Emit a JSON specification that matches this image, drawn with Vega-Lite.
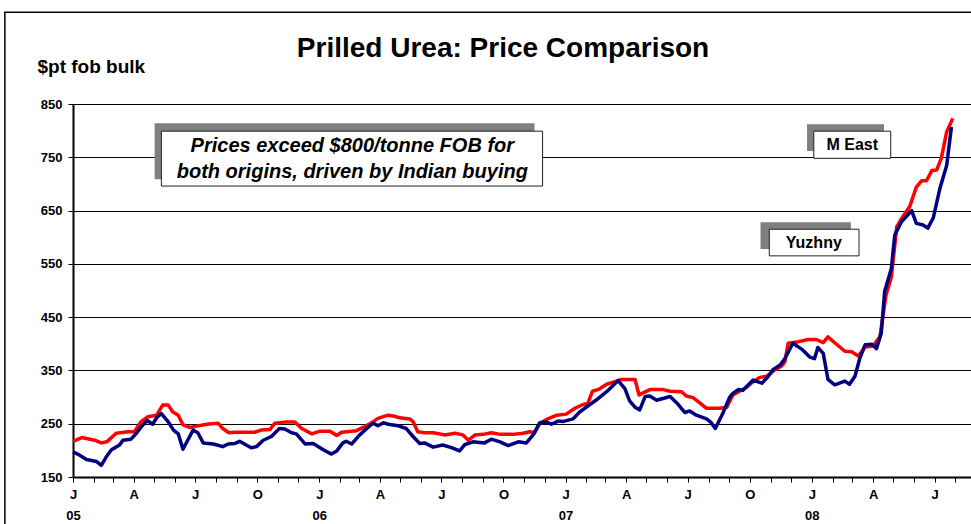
{
  "$schema": "https://vega.github.io/schema/vega-lite/v6.json",
  "width": 898,
  "height": 373,
  "autosize": {"type": "none"},
  "padding": {"left": 73, "top": 104, "right": 0, "bottom": 47},
  "background": "white",
  "config": {"view": {"stroke": null}, "font": "Liberation Sans"},
  "title": {
    "text": "Prilled Urea: Price Comparison",
    "font": "Liberation Sans",
    "fontSize": 28,
    "fontWeight": "bold",
    "color": "black",
    "anchor": "middle",
    "frame": "group",
    "dx": -19,
    "offset": -51
  },
  "datasets": {
    "prices": [
      {"date": "2005-01-01", "series": "M East", "price": 217},
      {"date": "2005-01-14", "series": "M East", "price": 224},
      {"date": "2005-02-02", "series": "M East", "price": 219},
      {"date": "2005-02-12", "series": "M East", "price": 214},
      {"date": "2005-02-20", "series": "M East", "price": 216},
      {"date": "2005-03-06", "series": "M East", "price": 232},
      {"date": "2005-03-24", "series": "M East", "price": 235},
      {"date": "2005-04-02", "series": "M East", "price": 235},
      {"date": "2005-04-12", "series": "M East", "price": 254},
      {"date": "2005-04-22", "series": "M East", "price": 263},
      {"date": "2005-05-05", "series": "M East", "price": 266},
      {"date": "2005-05-14", "series": "M East", "price": 285},
      {"date": "2005-05-22", "series": "M East", "price": 285},
      {"date": "2005-05-29", "series": "M East", "price": 272},
      {"date": "2005-06-06", "series": "M East", "price": 266},
      {"date": "2005-06-13", "series": "M East", "price": 248},
      {"date": "2005-06-23", "series": "M East", "price": 243},
      {"date": "2005-07-05", "series": "M East", "price": 246},
      {"date": "2005-07-18", "series": "M East", "price": 249},
      {"date": "2005-08-04", "series": "M East", "price": 251},
      {"date": "2005-08-11", "series": "M East", "price": 241},
      {"date": "2005-08-20", "series": "M East", "price": 233},
      {"date": "2005-08-29", "series": "M East", "price": 234},
      {"date": "2005-09-27", "series": "M East", "price": 234},
      {"date": "2005-10-07", "series": "M East", "price": 238},
      {"date": "2005-10-20", "series": "M East", "price": 239},
      {"date": "2005-10-27", "series": "M East", "price": 251},
      {"date": "2005-11-11", "series": "M East", "price": 253},
      {"date": "2005-11-26", "series": "M East", "price": 253},
      {"date": "2005-12-06", "series": "M East", "price": 241},
      {"date": "2005-12-21", "series": "M East", "price": 231},
      {"date": "2006-01-02", "series": "M East", "price": 236},
      {"date": "2006-01-17", "series": "M East", "price": 236},
      {"date": "2006-01-27", "series": "M East", "price": 228},
      {"date": "2006-02-03", "series": "M East", "price": 234},
      {"date": "2006-02-25", "series": "M East", "price": 237},
      {"date": "2006-03-07", "series": "M East", "price": 243},
      {"date": "2006-03-20", "series": "M East", "price": 252},
      {"date": "2006-03-29", "series": "M East", "price": 260},
      {"date": "2006-04-13", "series": "M East", "price": 266},
      {"date": "2006-04-23", "series": "M East", "price": 264},
      {"date": "2006-04-30", "series": "M East", "price": 261},
      {"date": "2006-05-15", "series": "M East", "price": 259},
      {"date": "2006-05-20", "series": "M East", "price": 254},
      {"date": "2006-05-27", "series": "M East", "price": 235},
      {"date": "2006-06-06", "series": "M East", "price": 233},
      {"date": "2006-06-19", "series": "M East", "price": 233},
      {"date": "2006-07-06", "series": "M East", "price": 229},
      {"date": "2006-07-21", "series": "M East", "price": 232},
      {"date": "2006-08-02", "series": "M East", "price": 229},
      {"date": "2006-08-10", "series": "M East", "price": 219},
      {"date": "2006-08-20", "series": "M East", "price": 229},
      {"date": "2006-09-01", "series": "M East", "price": 230},
      {"date": "2006-09-13", "series": "M East", "price": 233},
      {"date": "2006-09-26", "series": "M East", "price": 230},
      {"date": "2006-10-15", "series": "M East", "price": 230},
      {"date": "2006-10-30", "series": "M East", "price": 232},
      {"date": "2006-11-09", "series": "M East", "price": 235},
      {"date": "2006-11-16", "series": "M East", "price": 233},
      {"date": "2006-11-24", "series": "M East", "price": 251},
      {"date": "2006-12-04", "series": "M East", "price": 258},
      {"date": "2006-12-19", "series": "M East", "price": 266},
      {"date": "2007-01-02", "series": "M East", "price": 268},
      {"date": "2007-01-15", "series": "M East", "price": 279},
      {"date": "2007-01-27", "series": "M East", "price": 286},
      {"date": "2007-02-03", "series": "M East", "price": 288},
      {"date": "2007-02-10", "series": "M East", "price": 311},
      {"date": "2007-02-20", "series": "M East", "price": 315},
      {"date": "2007-03-03", "series": "M East", "price": 324},
      {"date": "2007-03-15", "series": "M East", "price": 329},
      {"date": "2007-03-25", "series": "M East", "price": 333},
      {"date": "2007-04-14", "series": "M East", "price": 333},
      {"date": "2007-04-20", "series": "M East", "price": 304},
      {"date": "2007-05-06", "series": "M East", "price": 314},
      {"date": "2007-05-26", "series": "M East", "price": 314},
      {"date": "2007-06-05", "series": "M East", "price": 311},
      {"date": "2007-06-22", "series": "M East", "price": 310},
      {"date": "2007-06-29", "series": "M East", "price": 302},
      {"date": "2007-07-09", "series": "M East", "price": 299},
      {"date": "2007-07-19", "series": "M East", "price": 289},
      {"date": "2007-07-29", "series": "M East", "price": 279},
      {"date": "2007-08-18", "series": "M East", "price": 279},
      {"date": "2007-08-28", "series": "M East", "price": 281},
      {"date": "2007-09-06", "series": "M East", "price": 304},
      {"date": "2007-09-16", "series": "M East", "price": 311},
      {"date": "2007-09-26", "series": "M East", "price": 318},
      {"date": "2007-10-06", "series": "M East", "price": 329},
      {"date": "2007-10-16", "series": "M East", "price": 337},
      {"date": "2007-10-26", "series": "M East", "price": 339},
      {"date": "2007-11-07", "series": "M East", "price": 351},
      {"date": "2007-11-17", "series": "M East", "price": 358},
      {"date": "2007-11-22", "series": "M East", "price": 366},
      {"date": "2007-11-27", "series": "M East", "price": 401},
      {"date": "2007-12-12", "series": "M East", "price": 404},
      {"date": "2007-12-27", "series": "M East", "price": 408},
      {"date": "2008-01-08", "series": "M East", "price": 408},
      {"date": "2008-01-18", "series": "M East", "price": 402},
      {"date": "2008-01-25", "series": "M East", "price": 413},
      {"date": "2008-02-04", "series": "M East", "price": 402},
      {"date": "2008-02-19", "series": "M East", "price": 386},
      {"date": "2008-02-29", "series": "M East", "price": 385},
      {"date": "2008-03-10", "series": "M East", "price": 377},
      {"date": "2008-03-20", "series": "M East", "price": 394},
      {"date": "2008-04-01", "series": "M East", "price": 396},
      {"date": "2008-04-11", "series": "M East", "price": 413},
      {"date": "2008-04-20", "series": "M East", "price": 491},
      {"date": "2008-04-28", "series": "M East", "price": 526},
      {"date": "2008-05-06", "series": "M East", "price": 620},
      {"date": "2008-05-13", "series": "M East", "price": 635},
      {"date": "2008-05-25", "series": "M East", "price": 657},
      {"date": "2008-06-04", "series": "M East", "price": 694},
      {"date": "2008-06-12", "series": "M East", "price": 706},
      {"date": "2008-06-19", "series": "M East", "price": 706},
      {"date": "2008-06-27", "series": "M East", "price": 725},
      {"date": "2008-07-04", "series": "M East", "price": 726},
      {"date": "2008-07-11", "series": "M East", "price": 748},
      {"date": "2008-07-19", "series": "M East", "price": 798},
      {"date": "2008-07-28", "series": "M East", "price": 823},
      {"date": "2005-01-01", "series": "Yuzhny", "price": 197},
      {"date": "2005-01-08", "series": "Yuzhny", "price": 193},
      {"date": "2005-01-21", "series": "Yuzhny", "price": 183},
      {"date": "2005-02-05", "series": "Yuzhny", "price": 179},
      {"date": "2005-02-12", "series": "Yuzhny", "price": 172},
      {"date": "2005-02-20", "series": "Yuzhny", "price": 189},
      {"date": "2005-02-27", "series": "Yuzhny", "price": 201},
      {"date": "2005-03-11", "series": "Yuzhny", "price": 210},
      {"date": "2005-03-16", "series": "Yuzhny", "price": 219},
      {"date": "2005-03-28", "series": "Yuzhny", "price": 221},
      {"date": "2005-04-05", "series": "Yuzhny", "price": 232},
      {"date": "2005-04-12", "series": "Yuzhny", "price": 244},
      {"date": "2005-04-21", "series": "Yuzhny", "price": 256},
      {"date": "2005-04-29", "series": "Yuzhny", "price": 249},
      {"date": "2005-05-06", "series": "Yuzhny", "price": 263},
      {"date": "2005-05-12", "series": "Yuzhny", "price": 269},
      {"date": "2005-05-22", "series": "Yuzhny", "price": 254},
      {"date": "2005-05-30", "series": "Yuzhny", "price": 238},
      {"date": "2005-06-06", "series": "Yuzhny", "price": 231},
      {"date": "2005-06-13", "series": "Yuzhny", "price": 202},
      {"date": "2005-06-20", "series": "Yuzhny", "price": 219},
      {"date": "2005-06-28", "series": "Yuzhny", "price": 238},
      {"date": "2005-07-05", "series": "Yuzhny", "price": 233},
      {"date": "2005-07-13", "series": "Yuzhny", "price": 214},
      {"date": "2005-07-28", "series": "Yuzhny", "price": 212},
      {"date": "2005-08-11", "series": "Yuzhny", "price": 207},
      {"date": "2005-08-19", "series": "Yuzhny", "price": 212},
      {"date": "2005-08-29", "series": "Yuzhny", "price": 213},
      {"date": "2005-09-05", "series": "Yuzhny", "price": 217},
      {"date": "2005-09-22", "series": "Yuzhny", "price": 205},
      {"date": "2005-09-30", "series": "Yuzhny", "price": 207},
      {"date": "2005-10-10", "series": "Yuzhny", "price": 219},
      {"date": "2005-10-22", "series": "Yuzhny", "price": 226},
      {"date": "2005-11-03", "series": "Yuzhny", "price": 241},
      {"date": "2005-11-11", "series": "Yuzhny", "price": 240},
      {"date": "2005-11-21", "series": "Yuzhny", "price": 233},
      {"date": "2005-11-28", "series": "Yuzhny", "price": 231},
      {"date": "2005-12-11", "series": "Yuzhny", "price": 212},
      {"date": "2005-12-23", "series": "Yuzhny", "price": 213},
      {"date": "2006-01-07", "series": "Yuzhny", "price": 201},
      {"date": "2006-01-19", "series": "Yuzhny", "price": 193},
      {"date": "2006-01-27", "series": "Yuzhny", "price": 199},
      {"date": "2006-02-05", "series": "Yuzhny", "price": 214},
      {"date": "2006-02-10", "series": "Yuzhny", "price": 217},
      {"date": "2006-02-18", "series": "Yuzhny", "price": 212},
      {"date": "2006-03-02", "series": "Yuzhny", "price": 229},
      {"date": "2006-03-15", "series": "Yuzhny", "price": 244},
      {"date": "2006-03-22", "series": "Yuzhny", "price": 251},
      {"date": "2006-03-29", "series": "Yuzhny", "price": 246},
      {"date": "2006-04-06", "series": "Yuzhny", "price": 252},
      {"date": "2006-04-13", "series": "Yuzhny", "price": 249},
      {"date": "2006-04-28", "series": "Yuzhny", "price": 246},
      {"date": "2006-05-10", "series": "Yuzhny", "price": 241},
      {"date": "2006-05-20", "series": "Yuzhny", "price": 226},
      {"date": "2006-05-30", "series": "Yuzhny", "price": 213},
      {"date": "2006-06-06", "series": "Yuzhny", "price": 214},
      {"date": "2006-06-19", "series": "Yuzhny", "price": 206},
      {"date": "2006-07-03", "series": "Yuzhny", "price": 210},
      {"date": "2006-07-16", "series": "Yuzhny", "price": 205},
      {"date": "2006-07-28", "series": "Yuzhny", "price": 199},
      {"date": "2006-08-05", "series": "Yuzhny", "price": 211},
      {"date": "2006-08-17", "series": "Yuzhny", "price": 216},
      {"date": "2006-09-03", "series": "Yuzhny", "price": 214},
      {"date": "2006-09-13", "series": "Yuzhny", "price": 221},
      {"date": "2006-09-26", "series": "Yuzhny", "price": 216},
      {"date": "2006-10-08", "series": "Yuzhny", "price": 209},
      {"date": "2006-10-23", "series": "Yuzhny", "price": 216},
      {"date": "2006-11-04", "series": "Yuzhny", "price": 214},
      {"date": "2006-11-14", "series": "Yuzhny", "price": 229},
      {"date": "2006-11-24", "series": "Yuzhny", "price": 252},
      {"date": "2006-12-04", "series": "Yuzhny", "price": 253},
      {"date": "2006-12-11", "series": "Yuzhny", "price": 249},
      {"date": "2006-12-21", "series": "Yuzhny", "price": 255},
      {"date": "2006-12-28", "series": "Yuzhny", "price": 254},
      {"date": "2007-01-12", "series": "Yuzhny", "price": 259},
      {"date": "2007-01-22", "series": "Yuzhny", "price": 272},
      {"date": "2007-02-03", "series": "Yuzhny", "price": 283},
      {"date": "2007-02-15", "series": "Yuzhny", "price": 294},
      {"date": "2007-03-03", "series": "Yuzhny", "price": 310},
      {"date": "2007-03-20", "series": "Yuzhny", "price": 331},
      {"date": "2007-03-30", "series": "Yuzhny", "price": 316},
      {"date": "2007-04-06", "series": "Yuzhny", "price": 293},
      {"date": "2007-04-14", "series": "Yuzhny", "price": 281},
      {"date": "2007-04-21", "series": "Yuzhny", "price": 276},
      {"date": "2007-04-29", "series": "Yuzhny", "price": 301},
      {"date": "2007-05-06", "series": "Yuzhny", "price": 302},
      {"date": "2007-05-16", "series": "Yuzhny", "price": 294},
      {"date": "2007-06-05", "series": "Yuzhny", "price": 301},
      {"date": "2007-06-15", "series": "Yuzhny", "price": 289},
      {"date": "2007-06-27", "series": "Yuzhny", "price": 271},
      {"date": "2007-07-04", "series": "Yuzhny", "price": 274},
      {"date": "2007-07-14", "series": "Yuzhny", "price": 266},
      {"date": "2007-07-29", "series": "Yuzhny", "price": 259},
      {"date": "2007-08-05", "series": "Yuzhny", "price": 252},
      {"date": "2007-08-11", "series": "Yuzhny", "price": 241},
      {"date": "2007-08-22", "series": "Yuzhny", "price": 269},
      {"date": "2007-09-01", "series": "Yuzhny", "price": 299},
      {"date": "2007-09-06", "series": "Yuzhny", "price": 307},
      {"date": "2007-09-14", "series": "Yuzhny", "price": 314},
      {"date": "2007-09-21", "series": "Yuzhny", "price": 313},
      {"date": "2007-10-06", "series": "Yuzhny", "price": 332},
      {"date": "2007-10-19", "series": "Yuzhny", "price": 326},
      {"date": "2007-10-28", "series": "Yuzhny", "price": 338},
      {"date": "2007-11-05", "series": "Yuzhny", "price": 352},
      {"date": "2007-11-15", "series": "Yuzhny", "price": 360},
      {"date": "2007-11-22", "series": "Yuzhny", "price": 372},
      {"date": "2007-12-04", "series": "Yuzhny", "price": 401},
      {"date": "2007-12-17", "series": "Yuzhny", "price": 390},
      {"date": "2007-12-29", "series": "Yuzhny", "price": 375},
      {"date": "2008-01-05", "series": "Yuzhny", "price": 372},
      {"date": "2008-01-10", "series": "Yuzhny", "price": 393},
      {"date": "2008-01-18", "series": "Yuzhny", "price": 382},
      {"date": "2008-01-25", "series": "Yuzhny", "price": 333},
      {"date": "2008-02-04", "series": "Yuzhny", "price": 323},
      {"date": "2008-02-19", "series": "Yuzhny", "price": 330},
      {"date": "2008-02-26", "series": "Yuzhny", "price": 324},
      {"date": "2008-03-05", "series": "Yuzhny", "price": 339},
      {"date": "2008-03-12", "series": "Yuzhny", "price": 372},
      {"date": "2008-03-20", "series": "Yuzhny", "price": 398},
      {"date": "2008-03-30", "series": "Yuzhny", "price": 399},
      {"date": "2008-04-06", "series": "Yuzhny", "price": 391},
      {"date": "2008-04-13", "series": "Yuzhny", "price": 420},
      {"date": "2008-04-18", "series": "Yuzhny", "price": 498},
      {"date": "2008-04-28", "series": "Yuzhny", "price": 542},
      {"date": "2008-05-03", "series": "Yuzhny", "price": 604},
      {"date": "2008-05-13", "series": "Yuzhny", "price": 629},
      {"date": "2008-05-28", "series": "Yuzhny", "price": 650},
      {"date": "2008-06-04", "series": "Yuzhny", "price": 626},
      {"date": "2008-06-14", "series": "Yuzhny", "price": 623},
      {"date": "2008-06-21", "series": "Yuzhny", "price": 617},
      {"date": "2008-06-29", "series": "Yuzhny", "price": 636},
      {"date": "2008-07-09", "series": "Yuzhny", "price": 692},
      {"date": "2008-07-19", "series": "Yuzhny", "price": 735},
      {"date": "2008-07-26", "series": "Yuzhny", "price": 807}
    ]
  },
  "layer": [
    {
      "data": {"values": [{}]},
      "mark": {"type": "rect", "fill": null, "fillOpacity": 0, "stroke": "black", "strokeWidth": 1.5, "clip": false},
      "encoding": {
        "x": {"datum": {"year": 2004, "month": 9, "date": 22, "utc": true}, "type": "temporal"},
        "x2": {"datum": {"year": 2009, "month": 6, "date": 1, "utc": true}},
        "y": {"datum": 1022, "type": "quantitative"},
        "y2": {"datum": -200}
      }
    },
    {
      "data": {"name": "prices"},
      "transform": [{"filter": "datum.series === 'M East'"}],
      "mark": {"type": "line", "color": "#FF0000", "strokeWidth": 3.5, "strokeJoin": "round"},
      "encoding": {
        "x": {
          "field": "date",
          "type": "temporal",
          "scale": {
            "type": "utc",
            "domain": [
              {"year": 2005, "month": 1, "date": 1, "utc": true},
              {"year": 2008, "month": 8, "date": 24, "utc": true}
            ]
          },
          "axis": {
            "title": null,
            "grid": false,
            "tickCount": {"interval": "month", "step": 1},
            "labelExpr": "utcmonth(datum.value) % 3 == 0 ? (utcmonth(datum.value) == 0 ? [substring(utcFormat(datum.value, '%b'), 0, 1), utcFormat(datum.value, '%y')] : substring(utcFormat(datum.value, '%b'), 0, 1)) : ''",
            "domainColor": "black",
            "domainWidth": 2,
            "tickColor": "black",
            "tickWidth": 1,
            "tickSize": 5,
            "labelFont": "Liberation Sans",
            "labelFontSize": 13,
            "labelFontWeight": "bold",
            "labelColor": "black",
            "labelPadding": 6,
            "labelLineHeight": 21,
            "labelBaseline": "top",
            "labelOverlap": false,
            "labelBound": false,
            "labelFlush": false
          }
        },
        "y": {
          "field": "price",
          "type": "quantitative",
          "scale": {"domain": [150, 850], "nice": false, "zero": false},
          "axis": {
            "values": [150, 250, 350, 450, 550, 650, 750, 850],
            "grid": true,
            "gridColor": "black",
            "gridWidth": 1,
            "gridOpacity": 1,
            "domainColor": "black",
            "domainWidth": 2,
            "tickColor": "black",
            "tickSize": 5,
            "labelFont": "Liberation Sans",
            "labelFontSize": 13,
            "labelFontWeight": "bold",
            "labelColor": "black",
            "labelPadding": 6,
            "title": "$pt fob bulk",
            "titleFont": "Liberation Sans",
            "titleFontSize": 19,
            "titleFontWeight": "bold",
            "titleColor": "black",
            "titleAngle": 0,
            "titleAlign": "left",
            "titleBaseline": "alphabetic",
            "titleX": -36,
            "titleY": -32
          }
        }
      }
    },
    {
      "data": {"name": "prices"},
      "transform": [{"filter": "datum.series === 'Yuzhny'"}],
      "mark": {"type": "line", "color": "#000080", "strokeWidth": 3.5, "strokeJoin": "round"},
      "encoding": {
        "x": {"field": "date", "type": "temporal"},
        "y": {"field": "price", "type": "quantitative"}
      }
    },
    {
      "data": {"values": [{}]},
      "mark": {"type": "rect", "color": "#808080"},
      "encoding": {
        "x": {"datum": {"year": 2005, "month": 5, "date": 2, "utc": true}, "type": "temporal"},
        "x2": {"datum": {"year": 2006, "month": 11, "date": 16, "utc": true}},
        "y": {"datum": 814, "type": "quantitative"},
        "y2": {"datum": 709}
      }
    },
    {
      "data": {"values": [{}]},
      "mark": {"type": "rect", "fill": "white", "stroke": "#222222", "strokeWidth": 1},
      "encoding": {
        "x": {"datum": {"year": 2005, "month": 5, "date": 12, "utc": true}, "type": "temporal"},
        "x2": {"datum": {"year": 2006, "month": 11, "date": 28, "utc": true}},
        "y": {"datum": 799, "type": "quantitative"},
        "y2": {"datum": 696}
      }
    },
    {
      "data": {"values": [{}]},
      "mark": {"type": "text", "text": ["Prices exceed $800/tonne FOB for", "both origins, driven by Indian buying"], "font": "Liberation Sans", "fontSize": 20, "fontWeight": "bold", "fontStyle": "italic", "color": "black", "align": "center", "baseline": "middle", "lineHeight": 26},
      "encoding": {
        "x": {"datum": {"year": 2006, "month": 2, "date": 19, "utc": true}, "type": "temporal"},
        "y": {"datum": 772, "type": "quantitative"}
      }
    },
    {
      "data": {"values": [{}]},
      "mark": {"type": "rect", "color": "#808080"},
      "encoding": {
        "x": {"datum": {"year": 2007, "month": 12, "date": 25, "utc": true}, "type": "temporal"},
        "x2": {"datum": {"year": 2008, "month": 4, "date": 17, "utc": true}},
        "y": {"datum": 812, "type": "quantitative"},
        "y2": {"datum": 762}
      }
    },
    {
      "data": {"values": [{}]},
      "mark": {"type": "rect", "fill": "white", "stroke": "#222222", "strokeWidth": 1},
      "encoding": {
        "x": {"datum": {"year": 2008, "month": 1, "date": 4, "utc": true}, "type": "temporal"},
        "x2": {"datum": {"year": 2008, "month": 4, "date": 27, "utc": true}},
        "y": {"datum": 799, "type": "quantitative"},
        "y2": {"datum": 748}
      }
    },
    {
      "data": {"values": [{}]},
      "mark": {"type": "text", "text": "M East", "font": "Liberation Sans", "fontSize": 16, "fontWeight": "bold", "color": "black", "align": "center", "baseline": "middle"},
      "encoding": {
        "x": {"datum": {"year": 2008, "month": 3, "date": 1, "utc": true}, "type": "temporal"},
        "y": {"datum": 773, "type": "quantitative"}
      }
    },
    {
      "data": {"values": [{}]},
      "mark": {"type": "rect", "color": "#808080"},
      "encoding": {
        "x": {"datum": {"year": 2007, "month": 10, "date": 17, "utc": true}, "type": "temporal"},
        "x2": {"datum": {"year": 2008, "month": 2, "date": 28, "utc": true}},
        "y": {"datum": 628, "type": "quantitative"},
        "y2": {"datum": 578}
      }
    },
    {
      "data": {"values": [{}]},
      "mark": {"type": "rect", "fill": "white", "stroke": "#222222", "strokeWidth": 1},
      "encoding": {
        "x": {"datum": {"year": 2007, "month": 10, "date": 30, "utc": true}, "type": "temporal"},
        "x2": {"datum": {"year": 2008, "month": 3, "date": 11, "utc": true}},
        "y": {"datum": 615, "type": "quantitative"},
        "y2": {"datum": 565}
      }
    },
    {
      "data": {"values": [{}]},
      "mark": {"type": "text", "text": "Yuzhny", "font": "Liberation Sans", "fontSize": 16, "fontWeight": "bold", "color": "black", "align": "center", "baseline": "middle"},
      "encoding": {
        "x": {"datum": {"year": 2008, "month": 1, "date": 4, "utc": true}, "type": "temporal"},
        "y": {"datum": 590, "type": "quantitative"}
      }
    }
  ]
}
